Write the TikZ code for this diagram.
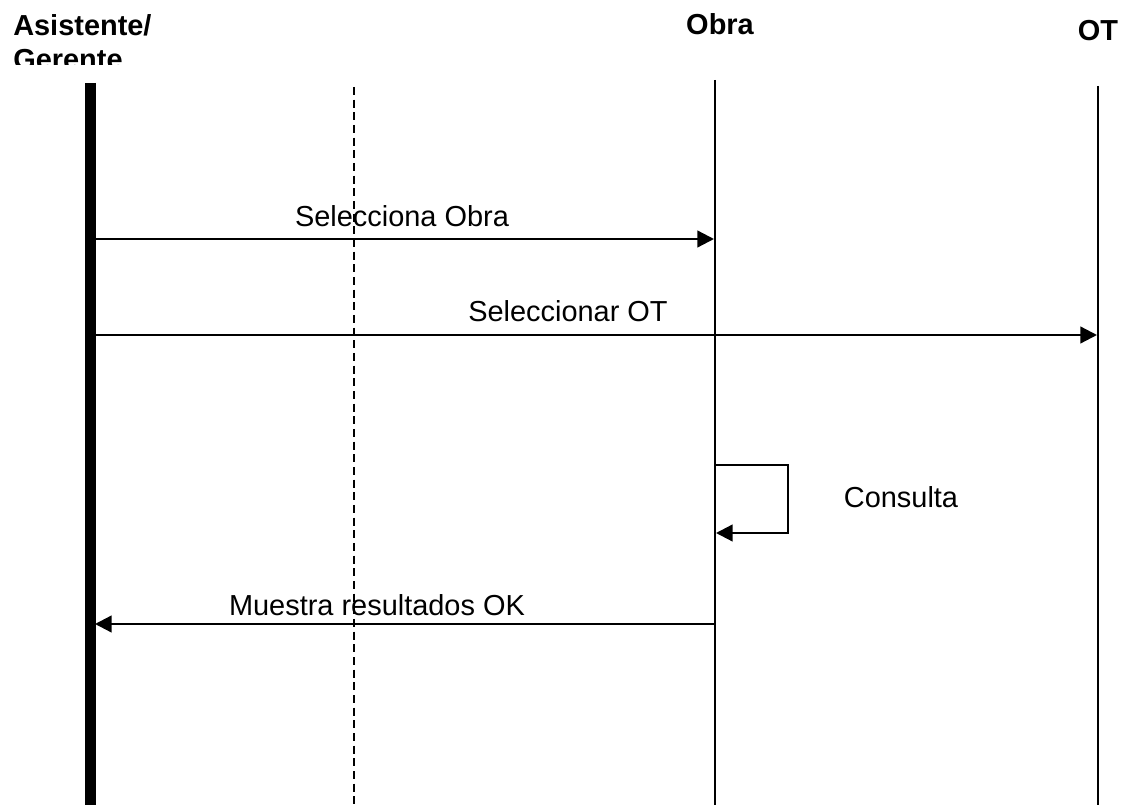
\documentclass[tikz,border=0pt]{standalone}
\usepackage{fontspec}
\setmainfont{Liberation Sans}
\usetikzlibrary{arrows.meta,positioning}
\tikzset{
  life/.style={draw=black, line width=1.4pt},
  actorlife/.style={draw=black, line width=7.9pt},
  guide/.style={draw=black, line width=1.2pt, dash pattern=on 6pt off 3.5pt},
  msg/.style={-{Triangle[length=12.5pt,width=12.5pt]}, line width=1.7pt},
  msglabel/.style={font=\fontsize{21.7}{26}\selectfont, inner sep=0pt, anchor=base},
  head/.style={font=\bfseries\fontsize{21.7}{26}\selectfont, inner sep=0pt, anchor=base},
}

\begin{document}
\begin{tikzpicture}[x=0.75pt,y=-0.75pt]
  \useasboundingbox (0,0) rectangle (1122,805);
  % lifeline heads
  \begin{scope}
    \clip (0,0) rectangle (300,65);
    \node[head, anchor=base west, align=left] (asis) at (13,70) {Asistente/\\Gerente};
  \end{scope}
  \node[head] (obra) at (720,35) {Obra};
  \node[head] (ot) at (1098,41) {OT};
  % lifelines
  \coordinate (asisTop) at (90.3,83);  \coordinate (asisBot) at (90.3,805);
  \coordinate (guideTop) at (354,87);  \coordinate (guideBot) at (354,805);
  \coordinate (obraTop) at (715,80);   \coordinate (obraBot) at (715,805);
  \coordinate (otTop) at (1098,86);    \coordinate (otBot) at (1098,805);
  \draw[actorlife] (asisTop) -- (asisBot);
  \draw[guide] (guideTop) -- (guideBot);
  \draw[life] (obraTop) -- (obraBot);
  \draw[life] (otTop) -- (otBot);
  % messages
  \coordinate (selA) at (95,239);   \coordinate (selB) at (714,239);
  \coordinate (otA) at (95,335);    \coordinate (otB) at (1097,335);
  \coordinate (loopA) at (715,465); \coordinate (loopB) at (716,533);
  \coordinate (resA) at (715,624);  \coordinate (resB) at (95,624);
  \draw[msg] (selA) -- (selB);
  \node[msglabel] (selLbl) at (402,227) {Selecciona Obra};
  \draw[msg] (otA) -- (otB);
  \node[msglabel] (otLbl) at (568,322) {Seleccionar OT};
  \draw[msg] (loopA) -- ++(73,0) |- (loopB);
  \node[msglabel] (conLbl) at (901,508) {Consulta};
  \draw[msg] (resA) -- (resB);
  \node[msglabel] (resLbl) at (377,615) {Muestra resultados OK};
\end{tikzpicture}
\end{document}
